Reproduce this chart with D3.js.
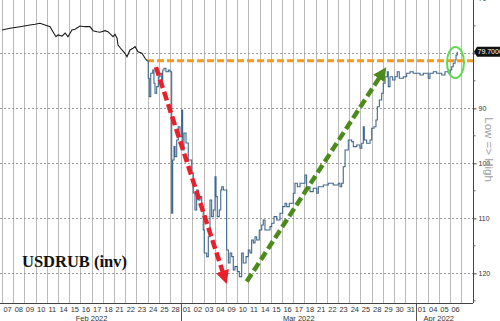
<!DOCTYPE html>
<html lang="en">
<head>
    <meta charset="UTF-8">
    <title>USDRUB (inv)</title>
    <script src="https://d3js.org/d3.v7.min.js"></script>
    <style>
        body {
            margin: 0;
            background-color: #fff;
            font-family: "Liberation Sans", Arial, sans-serif;
        }
        .xlab { font-size: 7.5px; fill: #333; text-anchor: middle; }
        .ylab { font-size: 7px; fill: #333; }
    </style>
</head>
<body>
<svg id="chart" width="500" height="321"></svg>
<script>
    // trading days on the x axis
    var dayLabels = ["07", "08", "09", "10", "11", "14", "15", "16", "17", "18", "21", "22", "23", "24", "25", "28",
        "01", "02", "03", "04", "09", "10", "11", "14", "15", "16", "17", "18", "21", "22", "23", "24", "25", "28", "29", "30", "31",
        "01", "04", "05", "06"];
    var monthNames = ["Feb 2022", "Mar 2022", "Apr 2022"];
    var monthStarts = [0, 16, 37];

    var yTicks = [70, 80, 90, 100, 110, 120];
    var yMinor = [75, 85, 95, 105, 115, 125];

    // before the invasion (day index, rate)
    var preT = [0, 0.71, 1.61, 2.5, 2.95, 3.39, 3.84, 4.29, 4.55, 4.82, 5.0, 5.36, 5.63, 5.89, 6.25, 6.52, 6.96, 7.41, 7.86,
        8.13, 8.48, 8.75, 9.2, 9.46, 9.91, 10.09, 10.27, 10.36, 10.71, 10.98, 11.16, 11.43, 11.7, 11.88, 12.14, 12.5, 12.77, 12.95];
    var preV = [75.75, 75.45, 75.15, 74.85, 74.72, 74.54, 74.85, 75.15, 76.06, 76.97, 76.66, 76.85, 76.3, 76.97, 75.75, 75.63, 75.03, 75.15, 75.15,
        75.88, 76.06, 76.17, 75.88, 76.06, 76.97, 76.54, 77.26, 78.48, 79.39, 79.99, 80.61, 79.39, 79.08, 78.79, 79.7, 79.99, 80.9, 81.34];

    // from 24 Feb onwards
    var postT = [12.95, 13.06, 13.15, 13.28, 13.46, 13.57, 13.66, 13.81, 13.96, 14.11, 14.26, 14.35, 14.46, 14.64, 14.85, 15.0,
        15.15, 15.24, 15.36, 15.45, 15.6, 15.74, 15.89, 16.04, 16.13, 16.25, 16.43, 16.63, 16.94, 17.08, 17.23, 17.38, 17.53, 17.68, 17.83, 17.97,
        18.06, 18.28, 18.42, 18.57, 18.72, 18.87, 19.02, 19.11, 19.22, 19.4, 19.53, 19.62, 19.76, 20.0, 20.06, 20.21, 20.36, 20.51, 20.65, 20.8,
        21.01, 21.19, 21.4, 21.54, 21.79, 21.99, 22.14, 22.29, 22.44, 22.59, 22.74, 22.97, 23.19, 23.33, 23.48, 23.63, 23.93, 24.08, 24.29, 24.53,
        24.82, 25.06, 25.27, 25.42, 25.65, 25.87, 26.01, 26.16, 26.37, 26.61, 27.05, 27.2, 27.5, 27.79, 28.1, 28.24, 28.69, 29.13, 29.58, 30.03,
        30.18, 30.33, 30.47, 30.63, 30.92, 31.22, 31.37, 31.67, 31.96, 32.12, 32.26, 32.35, 32.56, 32.86, 33.01, 33.21, 33.39, 33.51, 33.69, 33.9,
        34.04, 34.2, 34.4, 34.49, 34.64, 34.88, 35.09, 35.29, 35.47, 35.83, 36.13, 36.43, 36.72, 37.03, 37.32, 37.62, 38.06, 38.21, 38.51, 38.81,
        39.26, 39.55, 39.85, 40.0, 40.15, 40.29, 40.45, 40.54, 40.65];
    var postV = [81.34, 84.54, 87.88, 83.63, 83.03, 85.45, 87.26, 86.06, 84.25, 83.63, 84.85, 83.03, 82.72, 83.34, 83.03, 83.34,
        109.08, 99.39, 96.97, 98.79, 95.75, 93.34, 95.15, 90.3, 97.57, 94.48, 96.3, 99.39, 101.75, 105.39, 108.48, 104.85, 106.66, 106.06, 107.88, 112.12,
        116.3, 116.97, 113.34, 106.66, 109.7, 108.48, 102.43, 106.06, 109.7, 108.48, 104.85, 104.25, 104.85, 104.85, 115.75, 118.12, 116.3, 116.97, 119.39, 118.79,
        119.7, 120.61, 116.3, 118.12, 116.97, 115.75, 116.3, 113.94, 114.48, 113.34, 113.94, 112.12, 111.21, 110.3, 112.12, 112.12, 111.52, 110.9, 109.7, 110.3,
        109.08, 107.88, 107.26, 107.88, 107.26, 107.26, 105.45, 103.63, 104.25, 103.63, 102.12, 104.25, 105.15, 104.54, 105.45, 104.25, 103.94, 103.63, 103.94, 103.63,
        104.25, 103.63, 100.61, 97.57, 95.75, 96.06, 96.97, 96.66, 97.26, 96.35, 93.34, 95.75, 96.35, 95.75, 93.63, 93.34, 92.12, 89.7, 88.48, 87.26,
        85.45, 84.25, 83.34, 86.06, 84.25, 84.85, 84.25, 83.34, 84.54, 84.25, 83.63, 83.34, 83.63, 83.63, 83.94, 83.63, 84.54, 83.63, 83.34, 83.63,
        83.94, 83.34, 83.63, 83.03, 82.43, 81.81, 81.21, 80.3, 79.7];

    var lastValue = "79.7000";
    var preInvasionClose = 81.34;

    // annotations, in data units
    var redArrow = [[13.75, 82.5], [19.91, 121.0]];
    var greenArrow = [[21.85, 121.5], [34.04, 83.34]];
    var circleAt = [40.49, 81.66];

    var svg = d3.select("#chart"),
        plotRight = 473,
        plotBottom = 303;

    var x = d3.scaleLinear().domain([0, dayLabels.length]).range([2, 2 + 11.2 * dayLabels.length]);
    var y = d3.scaleLinear().domain([70.3, 125.4]).range([0, plotBottom]);
    function crisp(v) { return Math.round(v) + 0.5; }

    var defs = svg.append("defs");
    function marker(id, color) {
        defs.append("marker")
            .attr("id", id)
            .attr("viewBox", "0 0 10 10")
            .attr("refX", 6).attr("refY", 5)
            .attr("markerWidth", 3).attr("markerHeight", 3)
            .attr("orient", "auto")
            .append("path")
            .attr("d", "M0,0L10,5L0,10z")
            .attr("fill", color);
    }
    marker("redhead", "#e8202a");
    marker("greenhead", "#4d8a1c");

    // vertical day separators
    svg.append("g")
        .selectAll("line")
        .data(d3.range(dayLabels.length + 1))
        .enter().append("line")
        .attr("x1", function (d) { return crisp(x(d)); })
        .attr("x2", function (d) { return crisp(x(d)); })
        .attr("y1", 0)
        .attr("y2", plotBottom)
        .style("stroke", "#bababa")
        .style("stroke-width", "1px");

    // horizontal dotted grid
    svg.append("g")
        .selectAll("line")
        .data(yTicks.slice(1))
        .enter().append("line")
        .attr("x1", 0)
        .attr("x2", plotRight)
        .attr("y1", function (d) { return crisp(y(d)); })
        .attr("y2", function (d) { return crisp(y(d)); })
        .style("stroke", "#9c9c9c")
        .style("stroke-width", "1px")
        .style("stroke-dasharray", "2,2");

    // x labels
    svg.append("g").selectAll("text")
        .data(dayLabels)
        .enter().append("text")
        .attr("class", "xlab")
        .attr("x", function (d, i) { return x(i + 0.5); })
        .attr("y", 312)
        .text(function (d) { return d; });

    svg.append("g").selectAll("text")
        .data(monthNames)
        .enter().append("text")
        .attr("class", "xlab")
        .attr("x", function (d, i) {
            var end = i + 1 < monthStarts.length ? monthStarts[i + 1] : dayLabels.length;
            return x((monthStarts[i] + end) / 2);
        })
        .attr("y", 320.5)
        .text(function (d) { return d; });

    // month separators below the axis
    svg.append("g").selectAll("line")
        .data(monthStarts.slice(1))
        .enter().append("line")
        .attr("x1", function (d) { return crisp(x(d)); })
        .attr("x2", function (d) { return crisp(x(d)); })
        .attr("y1", plotBottom)
        .attr("y2", 321)
        .attr("stroke", "#555");

    // axes lines
    svg.append("line").attr("x1", 0).attr("x2", plotRight).attr("y1", plotBottom + 0.5).attr("y2", plotBottom + 0.5)
        .attr("stroke", "#444");

    var yAxis = svg.append("g")
        .attr("transform", "translate(" + (plotRight + 0.5) + ",0)")
        .call(d3.axisRight(y).tickValues(yTicks).tickSize(3).tickPadding(2)
            .tickFormat(function (d) { return d === 80 ? "" : d; }));
    yAxis.select(".domain").attr("d", "M0,0V" + plotBottom).attr("stroke", "#444");
    yAxis.selectAll(".tick line").attr("stroke", "#444");
    yAxis.selectAll("text").attr("class", "ylab").attr("font-family", null).attr("font-size", null);
    yAxis.selectAll(".minor")
        .data(yMinor)
        .enter().append("line")
        .attr("class", "minor")
        .attr("x1", 0).attr("x2", 2)
        .attr("y1", function (d) { return y(d); })
        .attr("y2", function (d) { return y(d); })
        .attr("stroke", "#666");

    svg.append("text")
        .attr("transform", "translate(485," + y(97.5) + ") rotate(90)")
        .attr("text-anchor", "middle")
        .attr("font-size", 11.5)
        .attr("fill", "#a0a0a0")
        .text("Low => High");

    // pre-invasion level
    svg.append("line")
        .attr("x1", x(preT[preT.length - 1]))
        .attr("x2", plotRight)
        .attr("y1", y(preInvasionClose))
        .attr("y2", y(preInvasionClose))
        .attr("stroke", "#f39a1e")
        .attr("stroke-width", 3)
        .attr("stroke-dasharray", "7,3");

    // price line
    var linePre = d3.line()
        .x(function (d, i) { return x(preT[i]); })
        .y(function (d) { return y(d); });
    var linePost = d3.line()
        .curve(d3.curveStepAfter)
        .x(function (d, i) { return x(postT[i]); })
        .y(function (d) { return y(d); });

    svg.append("path")
        .attr("d", linePre(preV))
        .attr("fill", "none")
        .attr("stroke", "#1b1b1b")
        .attr("stroke-width", 1.1);
    svg.append("path")
        .attr("d", linePost(postV))
        .attr("fill", "none")
        .attr("stroke", "#40678e")
        .attr("stroke-width", 1.1);

    // arrows
    function arrow(pts, color, head) {
        svg.append("line")
            .attr("x1", x(pts[0][0])).attr("y1", y(pts[0][1]))
            .attr("x2", x(pts[1][0])).attr("y2", y(pts[1][1]))
            .attr("stroke", color)
            .attr("stroke-width", 4.5)
            .attr("stroke-dasharray", "9,4")
            .attr("marker-end", "url(#" + head + ")");
    }
    arrow(redArrow, "#e8202a", "redhead");
    arrow(greenArrow, "#4d8a1c", "greenhead");

    svg.append("ellipse")
        .attr("cx", x(circleAt[0]))
        .attr("cy", y(circleAt[1]))
        .attr("rx", 8.5)
        .attr("ry", 15.5)
        .attr("fill", "none")
        .attr("stroke", "#5fd94f")
        .attr("stroke-width", 2);

    // last value badge
    var ly = y(postV[postV.length - 1]);
    svg.append("path")
        .attr("d", "M" + (plotRight + 1) + "," + ly + "L" + (plotRight + 4) + "," + (ly - 5) + "H500V" + (ly + 5) + "H" + (plotRight + 4) + "Z")
        .attr("fill", "#111");
    svg.append("text")
        .attr("x", plotRight + 4.5)
        .attr("y", ly + 2.5)
        .attr("font-size", 7)
        .attr("fill", "#fff")
        .text(lastValue);

    svg.append("text")
        .attr("x", 22)
        .attr("y", 267)
        .attr("font-family", "'Liberation Serif', 'Times New Roman', serif")
        .attr("font-weight", "bold")
        .attr("font-size", 16.5)
        .attr("fill", "#111")
        .text("USDRUB (inv)");
</script>
</body>
</html>
